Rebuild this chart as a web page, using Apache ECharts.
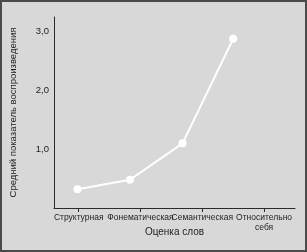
<!DOCTYPE html>
<html>
<head>
<meta charset="utf-8">
<script src="https://cdn.jsdelivr.net/npm/echarts@6/dist/echarts.min.js"></script>
<style>
html,body{margin:0;padding:0;background:#d8d8d8;}
#c{width:307px;height:252px;}
</style>
</head>
<body>
<div id="c"></div>
<script>
const categories = ['Структурная', 'Фонематическая', 'Семантическая', 'Относительно\nсебя'];
const categoryPos = [1, 2, 3, 4];
const pointX = [0.98, 1.83, 2.68, 3.5];
const values = [0.32, 0.48, 1.10, 2.88];
const yTickValues = [1, 2, 3];
const yTickLabels = ['1,0', '2,0', '3,0'];

const font = '"Liberation Sans Narrow", "Liberation Sans", Arial, sans-serif';
const chart = echarts.init(document.getElementById('c'), null, {renderer: 'canvas'});
chart.setOption({
  backgroundColor: '#d8d8d8',
  animation: false,
  textStyle: {fontFamily: font},
  graphic: [{
    type: 'rect',
    shape: {x: 1, y: 1, width: 305, height: 250},
    style: {fill: 'none', stroke: '#4a4a4a', lineWidth: 2},
    silent: true
  }],
  grid: {left: 53, right: 12, top: 17, bottom: 44},
  xAxis: {
    type: 'value',
    min: 0.6,
    max: 4.5,
    name: 'Оценка слов',
    nameLocation: 'middle',
    nameGap: 19,
    nameMoveOverlap: false,
    nameTextStyle: {fontSize: 10, color: '#1e1e1e', fontFamily: font},
    axisLine: {show: true, lineStyle: {color: '#2a2a2a', width: 1}},
    axisTick: {show: true, length: 4, customValues: categoryPos, lineStyle: {color: '#2a2a2a', width: 1}},
    splitLine: {show: false},
    axisLabel: {
      customValues: categoryPos,
      showMinLabel: true,
      showMaxLabel: true,
      hideOverlap: false,
      fontSize: 8.5,
      color: '#1e1e1e',
      margin: 5,
      lineHeight: 10,
      fontFamily: font,
      formatter: v => categories[categoryPos.indexOf(v)] || ''
    }
  },
  yAxis: {
    type: 'value',
    min: 0,
    max: 3.25,
    interval: 1,
    name: 'Средний показатель воспроизведения',
    nameLocation: 'middle',
    nameGap: 36,
    nameRotate: 90,
    nameTextStyle: {fontSize: 9.5, color: '#1e1e1e', fontFamily: font},
    axisLine: {show: true, lineStyle: {color: '#2a2a2a', width: 1}},
    axisTick: {show: false},
    splitLine: {show: false},
    axisLabel: {
      customValues: yTickValues,
      fontSize: 9.5,
      color: '#1e1e1e',
      margin: 5,
      fontFamily: font,
      formatter: v => yTickLabels[yTickValues.indexOf(v)] || ''
    }
  },
  series: [{
    type: 'line',
    data: pointX.map((x, i) => [x, values[i]]),
    lineStyle: {color: '#ffffff', width: 2},
    itemStyle: {color: '#ffffff'},
    symbol: 'circle',
    symbolSize: 8
  }]
});
</script>
</body>
</html>
